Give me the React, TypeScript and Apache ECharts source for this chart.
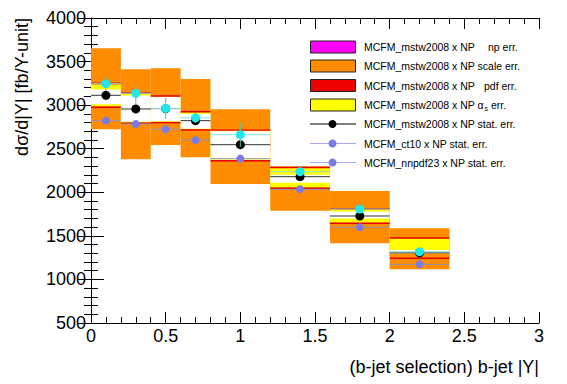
import React, { useEffect, useRef } from "react";
import * as echarts from "echarts";

const binLo = [0, 0.2, 0.4, 0.6, 0.8, 1.2, 1.6, 2.0];
const binHi = [0.2, 0.4, 0.6, 0.8, 1.2, 1.6, 2.0, 2.4];

const npLo = [3000, 2850, 2850, 2750, 2450, 2120, 1680, 1270];
const npHi = [3230, 3070, 3070, 2900, 2650, 2240, 1780, 1340];
const scaleLo = [2723, 2378, 2543, 2401, 2095, 1789, 1415, 1116];
const scaleHi = [3652, 3411, 3423, 3300, 2952, 2300, 2015, 1586];
const pdfLo = [2975, 2792, 2799, 2715, 2362, 2046, 1644, 1242];
const pdfHi = [3250, 3140, 3105, 2925, 2715, 2285, 1812, 1476];
const asLo = [2990, 2800, 2805, 2720, 2365, 2055, 1650, 1300];
const asHi = [3235, 3136, 3100, 2915, 2725, 2280, 1808, 1472];
const statLo = [3010, 2810, 2815, 2730, 2375, 2110, 1700, 1300];
const statHi = [3180, 3110, 3095, 2900, 2700, 2200, 1780, 1338];

const mstw = [3113, 2956, 2960, 2822, 2546, 2179, 1728, 1305];
const mstwErr = [40, 50, 45, 40, 50, 30, 30, 25];
const ct10 = [2822, 2784, 2723, 2598, 2386, 2034, 1598, 1173];
const ct10Err = [20, 20, 20, 20, 20, 15, 15, 15];
const nnpdf = [3246, 3136, 2962, 2855, 2661, 2236, 1808, 1318];
const nnpdfErr = [80, 130, 120, 60, 140, 40, 40, 30];

const xTicks = [0, 0.5, 1, 1.5, 2, 2.5, 3];
const yTicks = [500, 1000, 1500, 2000, 2500, 3000, 3500, 4000];

const legendLabels = [
  "MCFM_mstw2008 x NP",
  "MCFM_mstw2008 x NP scale err.",
  "MCFM_mstw2008 x NP",
  "MCFM_mstw2008 x NP α",
  "MCFM_mstw2008 x NP stat. err.",
  "MCFM_ct10 x NP stat. err.",
  "MCFM_nnpdf23 x NP stat. err.",
];

const FONT = "'Liberation Sans', Arial, Helvetica, sans-serif";

function bandSeries(name: string, lo: number[], hi: number[], fill: string, z: number) {
  return {
    type: "custom",
    name,
    z,
    data: binLo.map((l, i) => [l, binHi[i], lo[i], hi[i]]),
    encode: { x: [0, 1], y: [2, 3] },
    renderItem: (_p: any, api: any) => {
      const a = api.coord([api.value(0), api.value(3)]);
      const b = api.coord([api.value(1), api.value(2)]);
      return {
        type: "rect",
        shape: { x: a[0], y: a[1], width: b[0] - a[0], height: b[1] - a[1] },
        style: { fill, stroke: null },
      };
    },
  };
}

function edgeSeries(name: string, lo: number[], hi: number[], color: string, z: number) {
  return {
    type: "custom",
    name,
    z,
    data: binLo.map((l, i) => [l, binHi[i], lo[i], hi[i]]),
    encode: { x: [0, 1], y: [2, 3] },
    renderItem: (_p: any, api: any) => {
      const a = api.coord([api.value(0), api.value(3)]);
      const b = api.coord([api.value(1), api.value(2)]);
      return {
        type: "group",
        children: [
          { type: "line", shape: { x1: a[0], y1: a[1], x2: b[0], y2: a[1] }, style: { stroke: color, lineWidth: 1.5 } },
          { type: "line", shape: { x1: a[0], y1: b[1], x2: b[0], y2: b[1] }, style: { stroke: color, lineWidth: 1.5 } },
        ],
      };
    },
  };
}

function statSeries(
  name: string,
  vals: number[],
  errs: number[],
  lineColor: string,
  barColor: string,
  markColor: string,
  r: number,
  z: number
) {
  return {
    type: "custom",
    name,
    z,
    data: binLo.map((l, i) => [l, binHi[i], vals[i], errs[i]]),
    encode: { x: [0, 1], y: 2 },
    renderItem: (_p: any, api: any) => {
      const lo = api.value(0);
      const hi = api.value(1);
      const v = api.value(2);
      const e = api.value(3);
      const c = (lo + hi) / 2;
      const pl = api.coord([lo, v]);
      const ph = api.coord([hi, v]);
      const pc = api.coord([c, v]);
      const pt = api.coord([c, v + e]);
      const pb = api.coord([c, v - e]);
      return {
        type: "group",
        children: [
          { type: "line", shape: { x1: pl[0], y1: pl[1], x2: ph[0], y2: ph[1] }, style: { stroke: lineColor, lineWidth: 1 } },
          { type: "line", shape: { x1: pt[0], y1: pt[1], x2: pb[0], y2: pb[1] }, style: { stroke: barColor, lineWidth: 1 } },
          { type: "circle", shape: { cx: pc[0], cy: pc[1], r }, style: { fill: markColor, stroke: null } },
        ],
      };
    },
  };
}

export default function App() {
  const ref = useRef<HTMLDivElement>(null);
  useEffect(() => {
    document.body.style.margin = "0";
    const chart = echarts.init(ref.current!, null, { renderer: "svg" });

    const axisLine = { show: true, lineStyle: { color: "#000", width: 1 } };
    const xBase: any = {
      type: "value",
      min: xTicks[0],
      max: xTicks[xTicks.length - 1],
      interval: 0.5,
      axisLine,
      axisTick: { show: true, inside: true, length: 11, lineStyle: { color: "#000" } },
      minorTick: { show: true, splitNumber: 5, length: 6, lineStyle: { color: "#000" } },
      splitLine: { show: false },
      minorSplitLine: { show: false },
    };
    const yBase: any = {
      type: "value",
      min: yTicks[0],
      max: yTicks[yTicks.length - 1],
      interval: 500,
      axisLine,
      axisTick: { show: true, inside: true, length: 13, lineStyle: { color: "#000" } },
      minorTick: { show: true, splitNumber: 5, length: 7, lineStyle: { color: "#000" } },
      splitLine: { show: false },
      minorSplitLine: { show: false },
    };

    const rowY = [47, 66, 85.5, 105, 124, 143.5, 162.5];
    const boxColors = ["#ff00ff", "#ff8c00", "#f00000", "#ffff00"];
    const legend: any[] = [];
    boxColors.forEach((c, i) => {
      legend.push({
        type: "rect",
        shape: { x: 310.5, y: rowY[i] - 6, width: 45, height: 12 },
        style: { fill: c, stroke: "#222", lineWidth: 1 },
      });
    });
    const lineItems = [
      { line: "#000", mark: "#000" },
      { line: "#a8a8f4", mark: "#7b7be6" },
      { line: "#a8a8f4", mark: "#7b7be6" },
    ];
    lineItems.forEach((it, k) => {
      const y = rowY[4 + k];
      legend.push({ type: "line", shape: { x1: 310, y1: y, x2: 356, y2: y }, style: { stroke: it.line, lineWidth: 1.2 } });
      legend.push({ type: "circle", shape: { cx: 332.5, cy: y, r: 4 }, style: { fill: it.mark } });
    });
    legendLabels.forEach((t, i) => {
      legend.push({
        type: "text",
        x: 364,
        y: rowY[i],
        style: { text: t, fontSize: 10.5, fontFamily: FONT, fill: "#000", textVerticalAlign: "middle" },
      });
    });
    legend.push({
      type: "text",
      x: 488,
      y: rowY[0],
      style: { text: "np err.", fontSize: 10.5, fontFamily: FONT, fill: "#000", textVerticalAlign: "middle" },
    });
    legend.push({
      type: "text",
      x: 484,
      y: rowY[2],
      style: { text: "pdf err.", fontSize: 10.5, fontFamily: FONT, fill: "#000", textVerticalAlign: "middle" },
    });
    legend.push({
      type: "text",
      x: 484.5,
      y: rowY[3] + 3,
      style: { text: "s", fontSize: 7, fontFamily: FONT, fill: "#000", textVerticalAlign: "middle" },
    });
    legend.push({
      type: "text",
      x: 491,
      y: rowY[3],
      style: { text: "err.", fontSize: 10.5, fontFamily: FONT, fill: "#000", textVerticalAlign: "middle" },
    });

    const option: any = {
      animation: false,
      backgroundColor: "#fff",
      grid: { left: 91, top: 18, width: 448, height: 305, containLabel: false },
      xAxis: [
        {
          ...xBase,
          position: "bottom",
          axisLabel: {
            show: true,
            fontSize: 18,
            fontFamily: FONT,
            color: "#000",
            margin: 4,
            formatter: (v: number) => String(v),
          },
        },
        { ...xBase, position: "top", axisLabel: { show: false } },
      ],
      yAxis: [
        {
          ...yBase,
          position: "left",
          axisLabel: {
            show: true,
            fontSize: 18,
            fontFamily: FONT,
            color: "#000",
            margin: 5,
            formatter: (v: number) => String(v),
          },
        },
        { ...yBase, position: "right", axisLabel: { show: false } },
      ],
      series: [
        bandSeries("MCFM_mstw2008 x NP np err.", npLo, npHi, "#ff00ff", 1),
        bandSeries("MCFM_mstw2008 x NP scale err.", scaleLo, scaleHi, "#ff8c00", 2),
        bandSeries("MCFM_mstw2008 x NP αs err.", asLo, asHi, "#ffff00", 3),
        bandSeries("white", statLo, statHi, "#ffffff", 4),
        edgeSeries("MCFM_mstw2008 x NP pdf err.", pdfLo, pdfHi, "#e60000", 5),
        statSeries("MCFM_ct10 x NP stat. err.", ct10, ct10Err, "#9494b4", "#9090c8", "#7b7be6", 4, 6),
        statSeries("MCFM_mstw2008 x NP stat. err.", mstw, mstwErr, "#333333", "#000000", "#000000", 4.5, 7),
        statSeries("MCFM_nnpdf23 x NP stat. err.", nnpdf, nnpdfErr, "#88dddd", "#55bbaa", "#1ee8e8", 4.5, 8),
      ],
      graphic: [
        ...legend,
        {
          type: "text",
          x: 22,
          y: 18,
          rotation: Math.PI / 2,
          style: {
            text: "dσ/d|Y| [fb/Y-unit]",
            fontSize: 18,
            fontFamily: FONT,
            fill: "#000",
            textAlign: "right",
            textVerticalAlign: "middle",
          },
        },
        {
          type: "text",
          x: 539,
          y: 367,
          style: {
            text: "(b-jet selection) b-jet |Y|",
            fontSize: 18,
            fontFamily: FONT,
            fill: "#000",
            textAlign: "right",
            textVerticalAlign: "middle",
          },
        },
      ],
    };
    chart.setOption(option);
    return () => chart.dispose();
  }, []);
  return <div ref={ref} style={{ width: 567, height: 384 }} />;
}
